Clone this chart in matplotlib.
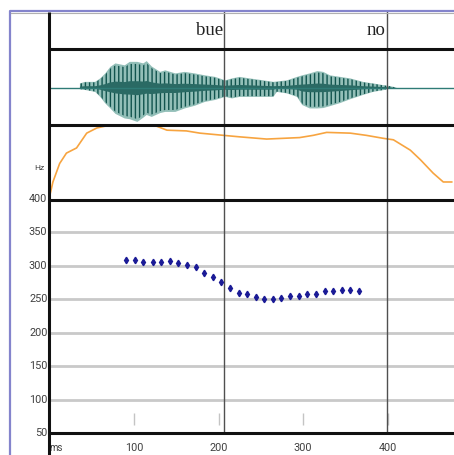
import numpy as np
import matplotlib
matplotlib.use("Agg")
import matplotlib.pyplot as plt

W, H = 454, 455

# pitch points (ms, Hz)
pitch_ms = [91, 101, 111, 122, 132, 142, 152, 163, 173, 183, 193, 203, 214, 224,
            234, 244, 254, 264, 274, 285, 295, 305, 315, 326, 336, 346, 356, 366]
pitch_hz = [309, 309, 306, 306, 306, 307, 305, 302, 298, 290, 283, 276, 267, 260,
            258, 254, 251, 251, 252, 255, 255, 258, 258, 262, 262, 264, 264, 262]

# smoothed contour in the upper panel (ms, relative level)
contour_ms = [0, 4, 12, 20, 32, 44, 56, 72, 83, 123, 139, 162, 178, 206, 225, 257,
              296, 312, 328, 356, 375, 395, 407, 427, 439, 454, 466, 476]
contour_lvl = [0.03, 0.23, 0.48, 0.62, 0.69, 0.89, 0.96, 1.0, 1.01, 1.0, 0.93, 0.92,
               0.89, 0.86, 0.84, 0.81, 0.83, 0.86, 0.90, 0.89, 0.86, 0.82, 0.80,
               0.66, 0.53, 0.35, 0.23, 0.23]

# waveform envelope (ms, upper, lower)
wave_ms = [36, 42, 54, 60, 66, 72, 78, 89, 95, 104, 111, 115, 121, 131, 137, 149,
           160, 172, 184, 196, 208, 216, 225, 237, 253, 265, 269, 281, 293, 299,
           308, 317, 324, 332, 344, 356, 371, 383, 395, 403, 411]
wave_up = [0.11, 0.15, 0.15, 0.24, 0.37, 0.54, 0.63, 0.58, 0.67, 0.67, 0.63, 0.69,
           0.55, 0.41, 0.45, 0.37, 0.41, 0.37, 0.32, 0.28, 0.19, 0.24, 0.28, 0.24,
           0.19, 0.15, 0.16, 0.19, 0.28, 0.32, 0.37, 0.43, 0.41, 0.32, 0.28, 0.24,
           0.15, 0.11, 0.065, 0.04, 0.0]
wave_dn = [0.04, 0.06, 0.11, 0.24, 0.41, 0.54, 0.68, 0.80, 0.82, 0.89, 0.78, 0.71,
           0.76, 0.66, 0.63, 0.63, 0.54, 0.47, 0.37, 0.32, 0.24, 0.28, 0.24, 0.24,
           0.24, 0.24, 0.11, 0.15, 0.24, 0.45, 0.54, 0.54, 0.53, 0.48, 0.40, 0.30,
           0.19, 0.11, 0.065, 0.02, 0.0]

words = ["bue", "no"]
bounds_ms = [206.5, 399]
hz_ticks = [50, 100, 150, 200, 250, 300, 350, 400]
ms_ticks = [100, 200, 300, 400]

XLIM = (-1.8, 478.7)
LABEL_FONT = ["Roboto", "DejaVu Sans"]
LABEL_COLOR = "#404040"

fig = plt.figure(figsize=(W / 100, H / 100), dpi=100)

def panel(top, bottom):
    ax = fig.add_axes([48 / W, 1 - bottom / H, (W - 48) / W, (bottom - top) / H])
    ax.set_xlim(*XLIM)
    ax.axis("off")
    return ax

# text tier
ax_t = panel(12, 48)
ax_t.set_ylim(0, 1)
for w, b in zip(words, bounds_ms):
    ax_t.text(b - 1, 0.36, w, ha="right", va="baseline", fontsize=13.5,
              family="Liberation Serif", color="#222222")

# waveform
ax_w = panel(48, 125)
ax_w.set_ylim(-0.97, 1.03)
ax_w.axhline(0, color="#2f7b76", lw=1)
up = np.array(wave_up)
dn = -np.array(wave_dn)
plt.rcParams["hatch.linewidth"] = 1.0
ax_w.fill_between(wave_ms, dn, up, facecolor="#93bfb8", lw=0)
ax_w.fill_between(wave_ms, dn * 0.92, up * 0.92, facecolor="none",
                  edgecolor="#11544e", hatch="||||", lw=0)
ax_w.fill_between(wave_ms, dn * 0.22, up * 0.25, facecolor="#2a6a64", lw=0)

# contour panel
ax_c = panel(125, 199)
ax_c.set_ylim(0, 1.0)
ax_c.plot(contour_ms, contour_lvl, color="#f7a440", lw=1.2, clip_on=True)
ax_c.text(-6, 0.42, "Hz", ha="right", va="center", fontsize=6,
          family=LABEL_FONT, color=LABEL_COLOR, clip_on=False)

# pitch panel
ax_p = panel(199, 433)
ax_p.set_ylim(50, 400)
for h in hz_ticks[1:-1]:
    ax_p.axhline(h, color="#c9c9c9", lw=2, zorder=1)
ax_p.vlines(ms_ticks, 62, 80, color="#c4c4c4", lw=1, zorder=1)
ax_p.plot(pitch_ms, pitch_hz, ls="none", marker="d", ms=3.3, color="#1a1a96",
          zorder=3)
for h in hz_ticks:
    ax_p.text(-2.5, h, str(h), ha="right", va="center", fontsize=7.8,
              family=LABEL_FONT, color=LABEL_COLOR, clip_on=False)
for m in ms_ticks:
    ax_p.text(m, 50 - 14.5 * 1.5, str(m), ha="center", va="center", fontsize=7.8,
              family=LABEL_FONT, color=LABEL_COLOR, clip_on=False)
ax_p.text(8, 50 - 14.5 * 1.5, "ms", ha="center", va="center", fontsize=7,
          family=LABEL_FONT, color=LABEL_COLOR, clip_on=False)

# segment boundaries through all tiers
for ax in (ax_t, ax_w, ax_c, ax_p):
    for b in bounds_ms:
        ax.axvline(b, color="#505050", lw=1, zorder=2)

# frame overlay in pixel coordinates
ov = fig.add_axes([0, 0, 1, 1], facecolor="none")
ov.set_xlim(0, W)
ov.set_ylim(H, 0)
ov.axis("off")
ov.plot([9.5, 9.5, W], [H, 11, 11], color="#8484cc", lw=1.6, solid_capstyle="butt")
ov.plot([10.5, W], [13, 13], color="#b0b0b0", lw=0.8)
ov.plot([48.5, 48.5], [12, H], color="#111111", lw=2.2, solid_capstyle="butt")
for y in (48.5, 125, 199.5, 433):
    ov.plot([48, W], [y, y], color="#111111", lw=2.2, solid_capstyle="butt")

fig.savefig("out.png", dpi=100)
